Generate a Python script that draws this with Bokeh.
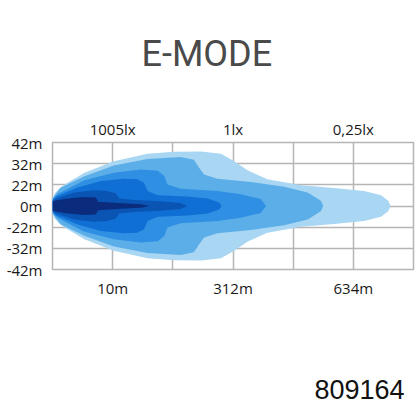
from bokeh.plotting import figure
from bokeh.models import LinearAxis, FixedTicker, Range1d, Title
from bokeh.layouts import column
from bokeh.embed import file_html
from bokeh.resources import INLINE

# ---- data ----
title_text = "E-MODE"
code_text = "809164"
y_ticks = [3, 2, 1, 0, -1, -2, -3]
y_labels = ["42m", "32m", "22m", "0m", "-22m", "-32m", "-42m"]
x_ticks = [1, 3, 5]
dist_labels = ["10m", "312m", "634m"]
lux_labels = ["1005lx", "1lx", "0,25lx"]
grid_x = [1, 2, 3, 4, 5]
grid_y = [-2, -1, 0, 1, 2]

# isolux contours: distance (grid units) and half-width (grid units), mirrored about 0
l1_x = [0, 0.04, 0.12, 0.25, 0.53, 1.02, 1.58, 2.02, 2.47, 2.80, 3.02, 3.24, 3.57, 4.13, 4.68, 5.18, 5.46, 5.58, 5.62]
l1_h = [0.38, 0.6, 0.85, 1.1, 1.57, 2.11, 2.47, 2.56, 2.57, 2.47, 2.11, 1.69, 1.26, 0.98, 0.85, 0.71, 0.51, 0.25, 0.0]
l2_x = [0, 0.05, 0.14, 0.53, 1.02, 1.58, 2.13, 2.35, 2.44, 2.52, 2.74, 3.30, 3.85, 4.24, 4.46, 4.50]
l2_h = [0.34, 0.55, 0.87, 1.41, 1.91, 2.22, 2.31, 2.19, 1.80, 1.49, 1.29, 1.13, 0.91, 0.64, 0.25, 0.0]
l3_x = [0, 0.08, 0.53, 1.02, 1.47, 1.75, 1.86, 1.91, 2.13, 2.74, 3.13, 3.46, 3.55]
l3_h = [0.32, 0.56, 1.22, 1.57, 1.72, 1.67, 1.41, 1.02, 0.82, 0.71, 0.56, 0.33, 0.0]
l4_x = [0, 0.06, 0.42, 0.80, 1.19, 1.41, 1.52, 1.58, 1.75, 2.24, 2.58, 2.77, 2.81]
l4_h = [0.28, 0.45, 0.87, 1.18, 1.29, 1.26, 1.10, 0.71, 0.51, 0.45, 0.36, 0.17, 0.0]
l5_x = [0, 0.06, 0.36, 0.69, 0.91, 1.05, 1.11, 1.36, 1.80, 2.13, 2.24]
l5_h = [0.24, 0.36, 0.64, 0.74, 0.71, 0.60, 0.36, 0.28, 0.23, 0.14, 0.0]
l6_x = [0, 0.03, 0.25, 0.53, 0.72, 0.76, 1.08, 1.47, 1.61]
l6_h = [0.2, 0.25, 0.36, 0.43, 0.40, 0.20, 0.14, 0.08, 0.0]

levels = [(l1_x, l1_h), (l2_x, l2_h), (l3_x, l3_h), (l4_x, l4_h), (l5_x, l5_h), (l6_x, l6_h)]
colors = ["#a8d6f3", "#5caee8", "#2f8fe2", "#0f6fd5", "#0a55b3", "#0b2c7c"]

GRID = "#b5b5b5"
FONT = "Open Sans"


def text_strip(height, title):
    s = figure(width=416, height=height, output_backend="svg", toolbar_location=None,
               x_axis_location=None, y_axis_location=None, min_border=0)
    s.outline_line_color = None
    s.xgrid.visible = False
    s.ygrid.visible = False
    s.title = title
    s.title_location = "below"
    return s


# strip holding the heading (its frame is aligned with the chart frame in the column)
p0 = text_strip(100, Title(text=title_text, align="left", offset=89, standoff=52,
                           text_font="Roboto", text_font_size="36px", text_font_style="normal",
                           text_color="#4a4a4a"))

p = figure(width=416, height=200, output_backend="svg", toolbar_location=None,
           x_range=Range1d(0, 6), y_range=Range1d(-3, 3),
           min_border_left=52, min_border_right=3, min_border_top=42, min_border_bottom=29,
           x_axis_location=None, y_axis_location=None)
p.background_fill_color = "white"
p.border_fill_color = "white"
p.outline_line_color = GRID
p.outline_line_width = 1.5

p.xgrid.ticker = FixedTicker(ticks=grid_x)
p.ygrid.ticker = FixedTicker(ticks=grid_y)
p.xgrid.grid_line_color = GRID
p.ygrid.grid_line_color = GRID
p.xgrid.grid_line_width = 1.5
p.ygrid.grid_line_width = 1.5

for (xs, hs), c in zip(levels, colors):
    px = list(xs) + list(reversed(xs))
    py = list(hs) + [-h for h in reversed(hs)]
    p.patch(px, py, fill_color=c, line_color=None)


def style_axis(ax, labels, ticks, standoff):
    ax.ticker = FixedTicker(ticks=ticks)
    ax.major_label_overrides = {t: l for t, l in zip(ticks, labels)}
    ax.axis_line_color = None
    ax.major_tick_line_color = None
    ax.minor_tick_line_color = None
    ax.major_tick_out = 0
    ax.major_tick_in = 0
    ax.major_label_standoff = standoff
    ax.major_label_text_font = FONT
    ax.major_label_text_font_size = "15px"
    ax.major_label_text_color = "#1a1a1a"


left = LinearAxis()
style_axis(left, y_labels, y_ticks, 10)
p.add_layout(left, "left")

below = LinearAxis()
style_axis(below, dist_labels, x_ticks, 8)
p.add_layout(below, "below")

above = LinearAxis()
style_axis(above, lux_labels, x_ticks, 4)
p.add_layout(above, "above")

# strip holding the product code
p2 = text_strip(116, Title(text=code_text, align="right", offset=9, standoff=35,
                           text_font="Liberation Sans", text_font_size="27px", text_font_style="normal",
                           text_color="#111111"))

layout = column(p0, p, p2, spacing=0)
open("out.html", "w").write(file_html(layout, INLINE))
